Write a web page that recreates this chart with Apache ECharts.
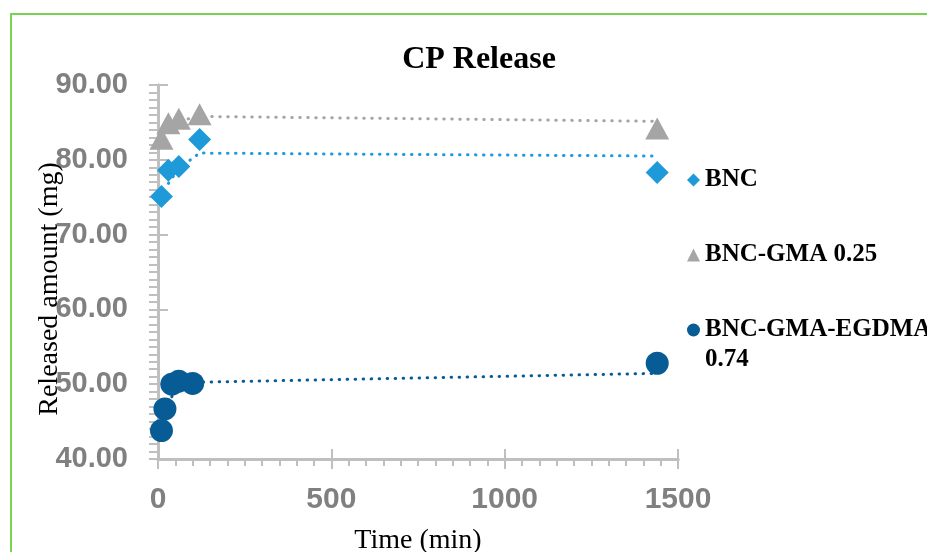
<!DOCTYPE html>
<html>
<head>
<meta charset="utf-8">
<script src="https://cdn.jsdelivr.net/npm/echarts@6/dist/echarts.min.js"></script>
<style>
  html, body { margin: 0; padding: 0; background: #fff; }
  #chart { width: 927px; height: 552px; }
</style>
</head>
<body>
<div id="chart"></div>
<script>
// values
const timeBNC = [10, 30, 60, 120, 1440]
const valBNC = [75.1, 78.6, 79.1, 82.7, 78.3]
const timeGMA = [10, 30, 60, 120, 1440]
const valGMA = [82.8, 84.9, 85.5, 86.1, 84.2]
const timeEGDMA = [10, 20, 40, 60, 100, 1440]
const valEGDMA = [43.8, 46.7, 50.0, 50.4, 50.1, 52.8]
const seriesNames = ['BNC', 'BNC-GMA 0.25', 'BNC-GMA-EGDMA 0.74']
const yTicks = [40, 50, 60, 70, 80, 90]
const xTicks = [0, 500, 1000, 1500]

const colBNC = '#1f9ad8'
const colGMA = '#a5a5a5'
const colEGDMA = '#075c95'
const axisCol = '#bfbfbf'
const labelCol = '#808080'
const serif = '"Liberation Serif", "DejaVu Serif", serif'
const sans = '"Liberation Sans", Arial, sans-serif'

function pairs(xs, ys) {
  return xs.map((x, i) => [x, ys[i]])
}
// excel style 2-period moving average trendline
function movingAvg(xs, ys) {
  const out = []
  for (let i = 1; i < xs.length; i++) {
    out.push([xs[i], (ys[i] + ys[i - 1]) / 2])
  }
  return out
}

function scatter(name, xs, ys, symbol, size, color) {
  return {
    name: name,
    type: 'scatter',
    symbol: symbol,
    symbolSize: size,
    itemStyle: { color: color, opacity: 1 },
    data: pairs(xs, ys),
    z: 3
  }
}
function trend(xs, ys, color) {
  return {
    type: 'line',
    data: movingAvg(xs, ys),
    showSymbol: false,
    silent: true,
    lineStyle: { color: color, width: 3, type: [0.5, 7.5], cap: 'round' },
    z: 2
  }
}

const chart = echarts.init(document.getElementById('chart'))

const yBase = {
  type: 'value',
  min: yTicks[0],
  max: yTicks[yTicks.length - 1],
  interval: 10,
  axisLine: { show: true, lineStyle: { color: axisCol, width: 3 } },
  splitLine: { show: false }
}
const xBase = {
  type: 'value',
  min: xTicks[0],
  max: xTicks[xTicks.length - 1],
  interval: 500,
  axisLine: { show: true, onZero: false, lineStyle: { color: axisCol, width: 3 } },
  splitLine: { show: false }
}

const option = {
  backgroundColor: '#fff',
  animation: false,
  title: {
    text: 'CP Release',
    left: 474,
    top: 39,
    textAlign: 'center',
    textStyle: { fontFamily: serif, fontWeight: 'bold', fontSize: 32, color: '#000' }
  },
  legend: {
    orient: 'vertical',
    left: 682,
    top: 161,
    itemWidth: 13,
    itemHeight: 13,
    itemGap: 47,
    data: seriesNames,
    formatter: function(name) {
      return name === 'BNC-GMA-EGDMA 0.74' ? 'BNC-GMA-EGDMA' : name
    },
    textStyle: { fontFamily: serif, fontWeight: 'bold', fontSize: 25, lineHeight: 28, color: '#000' }
  },
  graphic: [
    {
      type: 'rect',
      shape: { x: 11, y: 14, width: 940, height: 560 },
      style: { fill: null, stroke: '#78d351', lineWidth: 2 },
      silent: true,
      z: -10
    },
    {
      type: 'text',
      x: 705,
      y: 360,
      style: { text: '0.74', font: 'bold 25px ' + serif, fill: '#000', align: 'left', verticalAlign: 'middle' }
    },
    {
      type: 'text',
      x: 50,
      y: 289,
      rotation: Math.PI / 2,
      style: { text: 'Released amount (mg)', font: '28px ' + serif, fill: '#000', align: 'center', verticalAlign: 'middle' },
      z: 10
    }
  ],
  grid: { left: 158, right: 249, top: 85, bottom: 93, outerBoundsMode: 'none', containLabel: false },
  xAxis: [
    Object.assign({}, xBase, {
      name: 'Time (min)',
      nameLocation: 'middle',
      nameGap: 68,
      nameTextStyle: { fontFamily: serif, fontSize: 28, color: '#000' },
      axisTick: { show: true, length: 10, lineStyle: { color: axisCol, width: 2 } },
      minorTick: { show: true, splitNumber: 10, length: 7, lineStyle: { color: axisCol, width: 2 } },
      axisLabel: { margin: 26, fontFamily: sans, fontWeight: 'bold', fontSize: 30, color: labelCol, formatter: v => String(v) }
    }),
    Object.assign({}, xBase, {
      position: 'bottom',
      axisTick: { show: true, inside: true, length: 10, lineStyle: { color: axisCol, width: 2 } },
      axisLabel: { show: false }
    })
  ],
  yAxis: [
    Object.assign({}, yBase, {
      axisTick: { show: true, length: 9, lineStyle: { color: axisCol, width: 2 } },
      minorTick: { show: true, splitNumber: 10, length: 9, lineStyle: { color: axisCol, width: 2 } },
      axisLabel: {
        margin: 30,
        fontFamily: sans,
        fontWeight: 'bold',
        fontSize: 29,
        color: labelCol,
        formatter: v => v.toFixed(2)
      }
    }),
    Object.assign({}, yBase, {
      position: 'left',
      axisTick: { show: true, inside: true, length: 10, lineStyle: { color: axisCol, width: 2 } },
      axisLabel: { show: false }
    })
  ],
  series: [
    trend(timeBNC, valBNC, colBNC),
    trend(timeGMA, valGMA, colGMA),
    trend(timeEGDMA, valEGDMA, colEGDMA),
    scatter(seriesNames[0], timeBNC, valBNC, 'diamond', 23, colBNC),
    scatter(seriesNames[1], timeGMA, valGMA, 'triangle', [24, 22], colGMA),
    scatter(seriesNames[2], timeEGDMA, valEGDMA, 'circle', 23, colEGDMA)
  ]
}
chart.setOption(option)
</script>
</body>
</html>
